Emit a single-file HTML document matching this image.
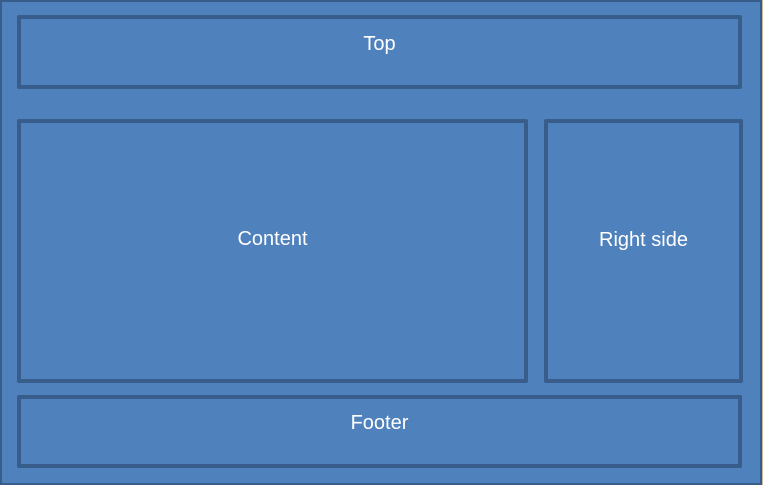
<!DOCTYPE html>
<html><head><style>
body{margin:0;width:763px;height:485px;background:#c8b89a;position:relative;overflow:hidden;font-family:"Liberation Sans",sans-serif}
.o{position:absolute;left:0;top:0;width:758px;height:481px;background:#4f81bd;border:2px solid #385d8a}
.b{position:absolute;box-sizing:border-box;border:4px solid #385d8a;border-radius:2px;background:#4f81bd;color:#fff;font-size:20px;display:flex;align-items:center;justify-content:center}
</style></head><body>
<div class="o"></div>
<div class="b" style="left:17px;top:15px;width:725px;height:74px;align-items:flex-start;padding-top:14px">Top</div>
<div class="b" style="left:17px;top:119px;width:511px;height:264px;padding-bottom:24px">Content</div>
<div class="b" style="left:544px;top:119px;width:199px;height:264px;padding-bottom:22px">Right side</div>
<div class="b" style="left:17px;top:395px;width:725px;height:73px;align-items:flex-start;padding-top:13px">Footer</div>
</body></html>
